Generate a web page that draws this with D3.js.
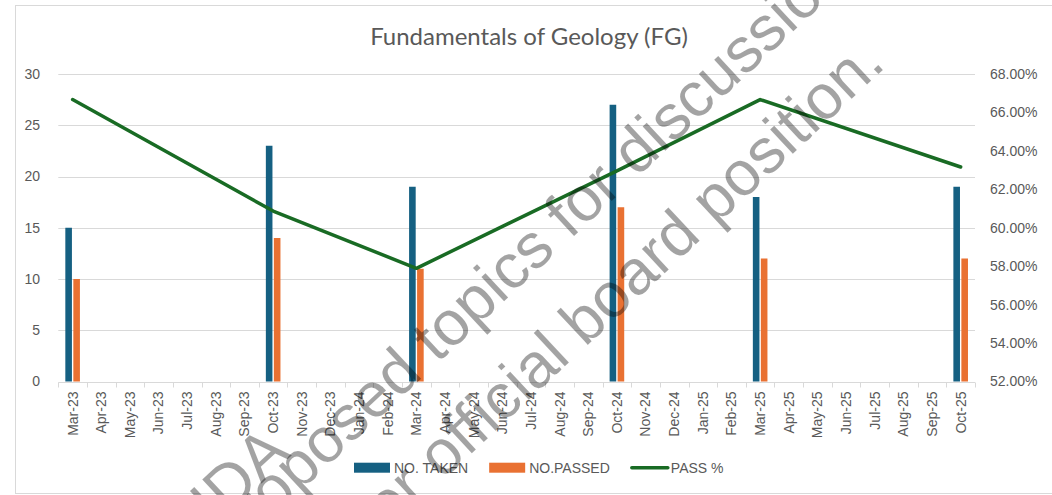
<!DOCTYPE html>
<html>
<head>
<meta charset="utf-8">
<script src="https://cdn.jsdelivr.net/npm/d3@7"></script>
<style>
  body { margin: 0; background: #fff; }
  svg { display: block; }
</style>
</head>
<body>
<div id="chart"></div>
<script>
// category axis: every month from Mar-23 to Oct-25
var months = ["Mar-23","Apr-23","May-23","Jun-23","Jul-23","Aug-23","Sep-23","Oct-23",
              "Nov-23","Dec-23","Jan-24","Feb-24","Mar-24","Apr-24","May-24","Jun-24",
              "Jul-24","Aug-24","Sep-24","Oct-24","Nov-24","Dec-24","Jan-25","Feb-25",
              "Mar-25","Apr-25","May-25","Jun-25","Jul-25","Aug-25","Sep-25","Oct-25"];
// exam sittings that have values
var examMonths = ["Mar-23","Oct-23","Mar-24","Oct-24","Mar-25","Oct-25"];
var noTaken  = [15, 23, 19, 27, 18, 19];
var noPassed = [10, 14, 11, 17, 12, 12];
var passPct  = [0.6667, 0.6087, 0.5789, 0.6296, 0.6667, 0.6316];

var leftTicks  = [0, 5, 10, 15, 20, 25, 30];
var rightTicks = [0.52, 0.54, 0.56, 0.58, 0.60, 0.62, 0.64, 0.66, 0.68];
var seriesNames = ["NO. TAKEN", "NO.PASSED", "PASS %"];
var watermark = ["IDA", "proposed topics for discussion", "for official board position."];

var takenColor = "#156082",
    passedColor = "#E97132",
    pctColor = "#196B24",
    gridColor = "#d9d9d9",
    textColor = "#595959";

var w = 1052, h = 495;
var svg = d3.select("#chart").append("svg")
    .attr("width", w)
    .attr("height", h);

// chart frame
svg.append("rect")
    .attr("x", 15.5).attr("y", 5.5)
    .attr("width", 1045).attr("height", 488)
    .attr("fill", "#fff")
    .attr("stroke", gridColor);

var x = d3.scaleBand().domain(months).range([58.3, 975]);
var yL = d3.scaleLinear().domain([0, 30]).range([381.5, 74]);
var yR = d3.scaleLinear().domain([0.52, 0.68]).range([381.5, 74]);
var xs = d3.scaleBand().domain(["taken", "passed"])
    .range([x.bandwidth() / 2 - 7.3, x.bandwidth() / 2 + 7.3])
    .paddingInner(0.175);

// title
svg.append("text")
    .attr("x", 529).attr("y", 44.5)
    .attr("text-anchor", "middle")
    .style("font-family", "Lato, 'Open Sans', sans-serif")
    .style("font-size", "24px")
    .style("fill", textColor)
    .text("Fundamentals of Geology (FG)");

// gridlines
svg.append("g").selectAll("line")
    .data(leftTicks)
    .enter().append("line")
    .attr("x1", x.range()[0]).attr("x2", x.range()[1])
    .attr("y1", function(d) { return Math.round(yL(d)) + 0.5; })
    .attr("y2", function(d) { return Math.round(yL(d)) + 0.5; })
    .style("stroke", gridColor)
    .style("stroke-width", "1px");

// left axis labels
svg.append("g")
    .attr("transform", "translate(40,0)")
    .call(d3.axisLeft(yL).tickValues(leftTicks).tickSize(0).tickPadding(0))
    .call(function(g) { g.select(".domain").remove(); })
    .selectAll("text")
    .style("font-family", "'Liberation Sans', Arial, sans-serif")
    .style("font-size", "14px")
    .style("fill", textColor);

// right axis labels
svg.append("g")
    .attr("transform", "translate(990,0)")
    .call(d3.axisRight(yR).tickValues(rightTicks).tickSize(0).tickPadding(0)
          .tickFormat(d3.format(".2%")))
    .call(function(g) { g.select(".domain").remove(); })
    .selectAll("text")
    .style("font-family", "'Liberation Sans', Arial, sans-serif")
    .style("font-size", "14px")
    .style("fill", textColor);

// category tick marks at band edges
var edges = months.map(function(m) { return x(m); }).concat([x.range()[1]]);
svg.append("g").selectAll("line")
    .data(edges)
    .enter().append("line")
    .attr("x1", function(d) { return Math.round(d) + 0.5; })
    .attr("x2", function(d) { return Math.round(d) + 0.5; })
    .attr("y1", Math.round(yL(0)) + 0.5)
    .attr("y2", Math.round(yL(0)) + 5.5)
    .style("stroke", gridColor);

// month labels
svg.append("g")
    .attr("transform", "translate(0," + yL(0) + ")")
    .call(d3.axisBottom(x).tickSize(0))
    .call(function(g) { g.select(".domain").remove(); })
    .selectAll("text")
    .attr("transform", "rotate(-90)")
    .attr("x", -10).attr("y", 0).attr("dy", "0.35em")
    .attr("text-anchor", "end")
    .style("font-family", "'Liberation Sans', Arial, sans-serif")
    .style("font-size", "14px")
    .style("fill", textColor);

// bars
var groups = svg.append("g").selectAll("g")
    .data(examMonths)
    .enter().append("g")
    .attr("transform", function(d) { return "translate(" + x(d) + ",0)"; });

groups.append("rect")
    .attr("x", xs("taken"))
    .attr("width", xs.bandwidth())
    .attr("y", function(d, i) { return yL(noTaken[i]); })
    .attr("height", function(d, i) { return yL(0) - yL(noTaken[i]); })
    .style("fill", takenColor);

groups.append("rect")
    .attr("x", xs("passed"))
    .attr("width", xs.bandwidth())
    .attr("y", function(d, i) { return yL(noPassed[i]); })
    .attr("height", function(d, i) { return yL(0) - yL(noPassed[i]); })
    .style("fill", passedColor);

// pass % line
var line = d3.line()
    .x(function(d, i) { return x(examMonths[i]) + x.bandwidth() / 2; })
    .y(function(d) { return yR(d); });

svg.append("path")
    .datum(passPct)
    .attr("d", line)
    .style("fill", "none")
    .style("stroke", pctColor)
    .style("stroke-width", "3.5px")
    .style("stroke-linejoin", "round")
    .style("stroke-linecap", "round");

// legend
var legend = svg.append("g");
var lx = 354, ly = 467.7;
seriesNames.forEach(function(name, i) {
  if (i < 2) {
    legend.append("rect")
        .attr("x", lx).attr("y", ly - 5)
        .attr("width", 36).attr("height", 10)
        .style("fill", i == 0 ? takenColor : passedColor);
  } else {
    legend.append("line")
        .attr("x1", lx + 1).attr("x2", lx + 37)
        .attr("y1", ly).attr("y2", ly)
        .style("stroke", pctColor)
        .style("stroke-width", "3.5px")
        .style("stroke-linecap", "round");
  }
  var t = legend.append("text")
      .attr("x", lx + 40).attr("y", ly).attr("dy", "0.35em")
      .style("font-family", "'Liberation Sans', Arial, sans-serif")
      .style("font-size", "14px")
      .style("fill", textColor)
      .text(name);
  lx = lx + 40 + t.node().getComputedTextLength() + 21;
});

// watermark over the chart
var wm = svg.append("g")
    .style("font-family", "'Liberation Sans', Arial, sans-serif")
    .style("font-size", "63px")
    .style("fill", "#000")
    .style("fill-opacity", 0.36);

wm.append("text")
    .attr("transform", "translate(292,455) rotate(-43)")
    .attr("text-anchor", "end")
    .text(watermark[0]);

wm.append("text")
    .attr("transform", "translate(232,555) rotate(-43)")
    .text(watermark[1]);

wm.append("text")
    .attr("transform", "translate(887,66) rotate(-43)")
    .attr("text-anchor", "end")
    .text(watermark[2]);
</script>
</body>
</html>
